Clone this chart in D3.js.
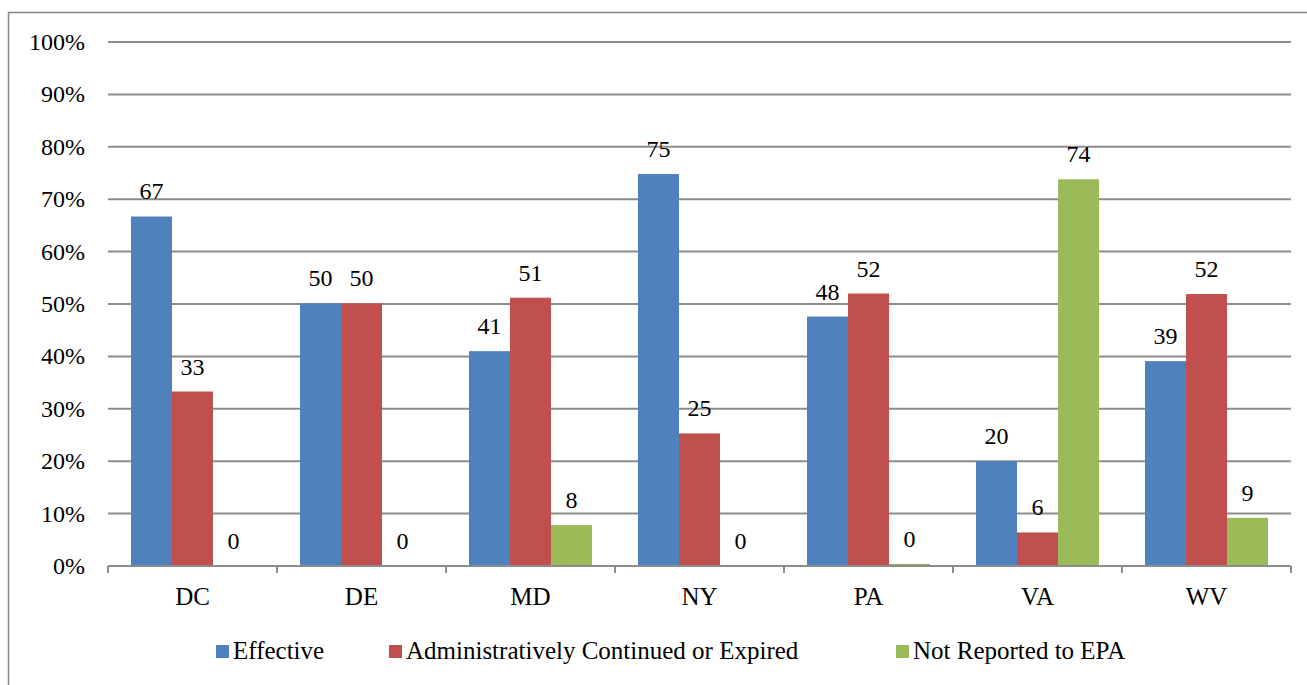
<!DOCTYPE html>
<html>
<head>
<meta charset="utf-8">
<script src="https://cdn.jsdelivr.net/npm/d3@7"></script>
<style>
  body { margin: 0; background: #fff; }
</style>
</head>
<body>
<div id="chart"></div>
<script>
var states = ["DC", "DE", "MD", "NY", "PA", "VA", "WV"];
var seriesNames = ["Effective", "Administratively Continued or Expired", "Not Reported to EPA"];
var effective = [66.7, 50.1, 41.0, 74.8, 47.6, 20.0, 39.1];
var adminExpired = [33.3, 50.1, 51.2, 25.3, 52.0, 6.4, 51.9];
var notReported = [0, 0, 7.8, 0, 0.4, 73.8, 9.2];
var yTicks = [0, 10, 20, 30, 40, 50, 60, 70, 80, 90, 100];
var colors = ["#4F81BD", "#C0504D", "#9BBB59"];

var series = [effective, adminExpired, notReported];
var serif = "'Liberation Serif', serif";

var W = 1307, H = 685;
var margin = {top: 42, right: 16, bottom: 119, left: 108};
var width = W - margin.left - margin.right,
    height = H - margin.top - margin.bottom;

var svg = d3.select("#chart").append("svg")
    .attr("width", W)
    .attr("height", H)
    .style("font-family", serif);

// outer frame
svg.append("rect")
    .attr("x", 8.5).attr("y", 12.5)
    .attr("width", W + 10).attr("height", H + 10)
    .attr("fill", "none")
    .attr("stroke", "#868686")
    .attr("stroke-width", 1.5);

var g = svg.append("g")
    .attr("transform", "translate(" + margin.left + "," + margin.top + ")");

var x = d3.scaleBand()
    .domain(states)
    .range([0, width]);

var x1 = d3.scaleBand()
    .domain(d3.range(series.length))
    .range([23, x.bandwidth() - 23]);

var y = d3.scaleLinear()
    .domain([0, 100])
    .range([height, 0]);

// gridlines
g.append("g").selectAll("line")
    .data(yTicks.slice(1))
    .enter().append("line")
    .attr("x1", 0).attr("x2", width)
    .attr("y1", function(d) { return y(d); })
    .attr("y2", function(d) { return y(d); })
    .attr("stroke", "#8c8c8c")
    .attr("stroke-width", 2);

// y labels
g.append("g").selectAll("text")
    .data(yTicks)
    .enter().append("text")
    .attr("x", -23)
    .attr("y", function(d) { return y(d); })
    .attr("dy", "0.33em")
    .attr("text-anchor", "end")
    .style("font-size", "24px")
    .text(function(d) { return d + "%"; });

// bars
var rows = [];
states.forEach(function(s, i) {
  series.forEach(function(vals, j) {
    rows.push({state: s, k: j, value: vals[i]});
  });
});

g.append("g").selectAll("rect")
    .data(rows)
    .enter().append("rect")
    .attr("x", function(d) { return x(d.state) + x1(d.k); })
    .attr("y", function(d) { return y(d.value); })
    .attr("width", x1.bandwidth())
    .attr("height", function(d) { return height - y(d.value); })
    .attr("fill", function(d) { return colors[d.k]; });

// value labels
g.append("g").selectAll("text")
    .data(rows)
    .enter().append("text")
    .attr("x", function(d) { return x(d.state) + x1(d.k) + x1.bandwidth() / 2; })
    .attr("y", function(d) { return y(d.value) - 17; })
    .attr("text-anchor", "middle")
    .style("font-size", "24px")
    .text(function(d) { return Math.round(d.value); });

// x axis
var xAxis = g.append("g")
    .attr("transform", "translate(0," + height + ")");
xAxis.append("line")
    .attr("x1", 0).attr("x2", width)
    .attr("stroke", "#8c8c8c").attr("stroke-width", 2);
xAxis.selectAll("line.tick")
    .data(d3.range(states.length + 1))
    .enter().append("line")
    .attr("class", "tick")
    .attr("x1", function(i) { return i * x.bandwidth(); })
    .attr("x2", function(i) { return i * x.bandwidth(); })
    .attr("y1", 0).attr("y2", 7)
    .attr("stroke", "#8c8c8c").attr("stroke-width", 2);
xAxis.selectAll("text")
    .data(states)
    .enter().append("text")
    .attr("x", function(d) { return x(d) + x.bandwidth() / 2; })
    .attr("y", 39)
    .attr("text-anchor", "middle")
    .style("font-size", "25px")
    .text(function(d) { return d; });

// legend
var legendX = [216, 389, 896];
var legend = svg.append("g").selectAll("g")
    .data(seriesNames)
    .enter().append("g")
    .attr("transform", function(d, i) { return "translate(" + legendX[i] + ",645)"; });
legend.append("rect")
    .attr("width", 13).attr("height", 13)
    .attr("fill", function(d, i) { return colors[i]; });
legend.append("text")
    .attr("x", 17)
    .attr("y", 14)
    .style("font-size", "25px")
    .text(function(d) { return d; });
</script>
</body>
</html>
